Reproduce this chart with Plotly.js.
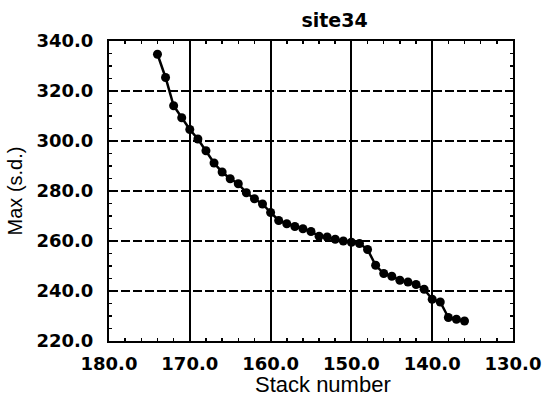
<!DOCTYPE html>
<html>
<head>
<meta charset="utf-8">
<script src="https://cdn.plot.ly/plotly-3.0.1.min.js"></script>
<style>html,body{margin:0;padding:0;background:#fff;}</style>
</head>
<body>
<div id="chart" style="width:544px;height:399px;"></div>
<script>
const stackNumber = [174,173,172,171,170,169,168,167,166,165,164,163,162,161,160,159,158,157,156,155,154,153,152,151,150,149,148,147,146,145,144,143,142,141,140,139,138,137,136];
const maxSd = [334.7,325.4,314.1,309.3,304.6,300.8,296.1,291.2,287.6,284.9,282.9,279.3,276.9,274.8,271.4,268.2,266.9,265.8,264.9,263.8,261.9,261.6,260.7,260.0,259.5,259.0,256.6,250.3,247.0,245.9,244.3,243.6,242.6,240.7,236.7,235.6,229.4,228.7,228.0];
const xTicks = [180,170,160,150,140,130];
const xTickText = ["180.0","170.0","160.0","150.0","140.0","130.0"];
const yTicks = [220,240,260,280,300,320,340];
const yTickText = ["220.0","240.0","260.0","280.0","300.0","320.0","340.0"];

const tickFont = {family: "DejaVu Sans", size: 18, color: "#000", weight: "bold"};

const trace = {
  x: stackNumber, y: maxSd, type: "scatter", mode: "lines+markers",
  line: {color: "#000", width: 2.5},
  marker: {color: "#000", size: 9},
  showlegend: false, cliponaxis: false
};

const layout = {
  width: 544, height: 399,
  margin: {l: 109, r: 31, t: 41, b: 58},
  paper_bgcolor: "#fff", plot_bgcolor: "#fff",
  title: {text: "site34", font: {family: "DejaVu Sans", size: 19, color: "#000", weight: "bold"}, x: 0.615, xanchor: "center", y: 0.95, yanchor: "middle"},
  xaxis: {
    range: [180, 130], tickvals: xTicks, ticktext: xTickText, tickfont: tickFont,
    showline: true, linecolor: "#000", linewidth: 2, mirror: "allticks",
    ticks: "inside", ticklen: 5, tickcolor: "#000", tickwidth: 1.5,
    showgrid: true, gridcolor: "#000", gridwidth: 2,
    zeroline: false, ticklabelstandoff: 5,
    minor: {dtick: 2, ticks: "inside", ticklen: 3, tickcolor: "#000", tickwidth: 1.5, showgrid: false}
  },
  yaxis: {
    range: [220, 340], tickvals: yTicks, ticktext: yTickText, tickfont: tickFont,
    showline: true, linecolor: "#000", linewidth: 2, mirror: "allticks",
    ticks: "inside", ticklen: 5, tickcolor: "#000", tickwidth: 1.5,
    showgrid: true, gridcolor: "#000", gridwidth: 1.5, griddash: "9px,3px",
    zeroline: false, ticklabelstandoff: 10,
    minor: {dtick: 5, ticks: "inside", ticklen: 3, tickcolor: "#000", tickwidth: 1.5, showgrid: false},
    title: {text: "Max (s.d.)", font: {family: "Liberation Sans", size: 20, color: "#000"}, standoff: 8}
  },
  annotations: [{
    text: "Stack number", xref: "paper", yref: "paper", x: 0.53, y: 0, xanchor: "center", yanchor: "top",
    yshift: -29, showarrow: false, font: {family: "Liberation Sans", size: 22, color: "#000"}
  }]
};

Plotly.newPlot("chart", [trace], layout, {displayModeBar: false, staticPlot: true});
</script>
</body>
</html>
